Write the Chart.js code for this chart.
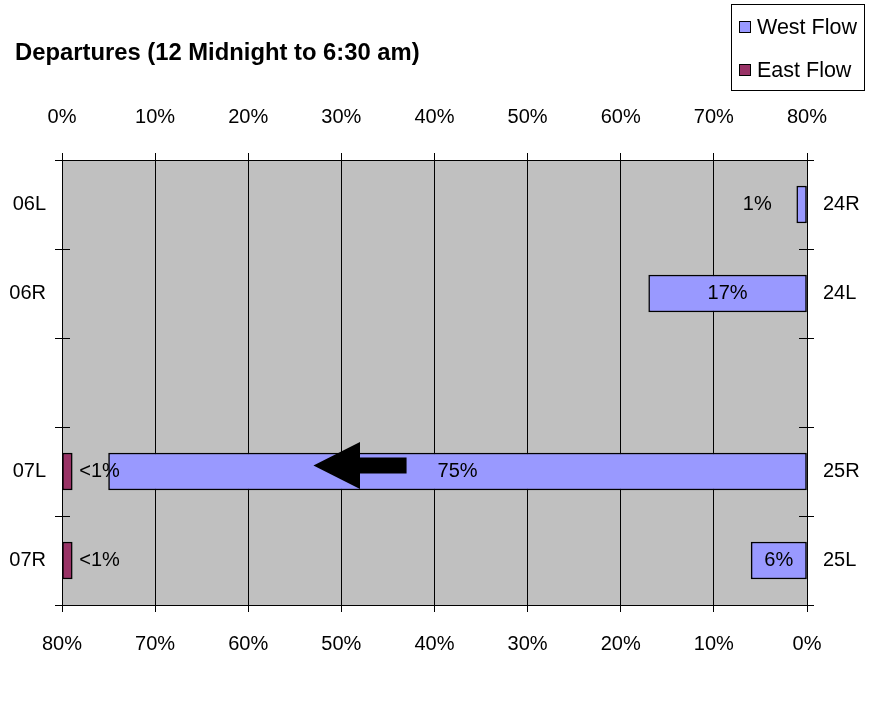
<!DOCTYPE html>
<html>
<head>
<meta charset="utf-8">
<script src="https://cdn.jsdelivr.net/npm/chart.js@4"></script>
<style>
  body { margin: 0; background: #fff; }
</style>
</head>
<body>
<canvas id="runwayChart" width="880" height="701"></canvas>
<script>
// runway ends (east end on the left, west end on the right)
const eastEnds = ["06L", "06R", "", "07L", "07R"];
const westEnds = ["24R", "24L", "", "25R", "25L"];
// share of departures, percent
const westFlow = [1.1, 17, null, 75, 6];
const eastFlow = [null, null, null, 1.1, 1.1];
const westLabels = ["1%", "17%", "", "75%", "6%"];
const eastLabels = ["", "", "", "<1%", "<1%"];
const pctMin = 0;
const pctMax = 80;
const pctStep = 10;

const FONT = "'Liberation Sans', Arial, sans-serif";

document.addEventListener("DOMContentLoaded", function() {
    Chart.defaults.font.family = FONT;
    Chart.defaults.font.size = 20;
    Chart.defaults.color = "#000";

    const plotBackground = {
        id: "plotBackground",
        beforeDraw(chart) {
            const a = chart.chartArea;
            const ctx = chart.ctx;
            ctx.save();
            ctx.fillStyle = "#c0c0c0";
            ctx.fillRect(a.left, a.top, a.right - a.left, a.bottom - a.top);
            ctx.restore();
        }
    };

    const extras = {
        id: "extras",
        afterDatasetsDraw(chart) {
            const ctx = chart.ctx;
            const a = chart.chartArea;
            const y = chart.scales.y;
            const x2 = chart.scales.x2;

            // inner tick marks on both category axes
            ctx.save();
            ctx.strokeStyle = "#000";
            ctx.lineWidth = 1;
            const half = (y.getPixelForValue(1) - y.getPixelForValue(0)) / 2;
            for (let i = 0; i <= eastEnds.length; i++) {
                const py = Math.round(y.getPixelForValue(i) - half) + 0.5;
                ctx.beginPath();
                ctx.moveTo(a.left, py); ctx.lineTo(a.left + 8, py);
                ctx.moveTo(a.right - 8, py); ctx.lineTo(a.right, py);
                ctx.stroke();
            }

            // bar labels
            ctx.font = "20px " + FONT;
            ctx.fillStyle = "#000";
            ctx.textBaseline = "middle";
            chart.getDatasetMeta(0).data.forEach(function(bar, i) {
                if (!westLabels[i]) return;
                const w = ctx.measureText(westLabels[i]).width;
                const left = Math.min(bar.x, bar.base);
                const right = Math.max(bar.x, bar.base);
                if (right - left > w + 10) {
                    ctx.textAlign = "center";
                    ctx.fillText(westLabels[i], (left + right) / 2, bar.y);
                } else {
                    ctx.textAlign = "right";
                    ctx.fillText(westLabels[i], left - 25, bar.y);
                }
            });
            chart.getDatasetMeta(1).data.forEach(function(bar, i) {
                if (!eastLabels[i]) return;
                ctx.textAlign = "left";
                ctx.fillText(eastLabels[i], Math.max(bar.x, bar.base) + 7, bar.y);
            });

            // direction arrow inside the 25R bar
            const ay = y.getPixelForValue(3) - 6;
            const tip = x2.getPixelForValue(53);
            const back = x2.getPixelForValue(48);
            const tail = x2.getPixelForValue(43);
            ctx.fillStyle = "#000";
            ctx.beginPath();
            ctx.moveTo(tip, ay);
            ctx.lineTo(back, ay - 23.5);
            ctx.lineTo(back, ay - 8);
            ctx.lineTo(tail, ay - 8);
            ctx.lineTo(tail, ay + 8);
            ctx.lineTo(back, ay + 8);
            ctx.lineTo(back, ay + 23.5);
            ctx.closePath();
            ctx.fill();
            ctx.restore();
        },
        afterDraw(chart) {
            const ctx = chart.ctx;
            ctx.save();
            // title
            ctx.fillStyle = "#000";
            ctx.font = "bold 23.8px " + FONT;
            ctx.textAlign = "left";
            ctx.textBaseline = "alphabetic";
            ctx.fillText("Departures (12 Midnight to 6:30 am)", 15, 60);

            // legend box
            ctx.strokeStyle = "#000";
            ctx.lineWidth = 1;
            ctx.strokeRect(731.5, 4.5, 133, 86);
            const items = [["West Flow", "#9999ff", 27], ["East Flow", "#993366", 70]];
            ctx.font = "21.5px " + FONT;
            ctx.textBaseline = "middle";
            items.forEach(function(it) {
                ctx.fillStyle = it[1];
                ctx.fillRect(739.5, it[2] - 5.5, 11, 11);
                ctx.strokeRect(739.5, it[2] - 5.5, 11, 11);
                ctx.fillStyle = "#000";
                ctx.fillText(it[0], 757, it[2] + 1);
            });
            ctx.restore();
        }
    };

    const pctTick = function(v) { return v + "%"; };

    const ctx = document.getElementById("runwayChart").getContext("2d");
    new Chart(ctx, {
        type: "bar",
        data: {
            labels: eastEnds,
            datasets: [{
                label: "West Flow",
                data: westFlow,
                xAxisID: "x2",
                yAxisID: "y",
                backgroundColor: "#9999ff",
                borderColor: "#000",
                borderWidth: 1.5,
                borderSkipped: false,
                barThickness: 37,
                grouped: false
            }, {
                label: "East Flow",
                data: eastFlow,
                xAxisID: "x",
                yAxisID: "y",
                backgroundColor: "#993366",
                borderColor: "#000",
                borderWidth: 1.5,
                borderSkipped: false,
                barThickness: 37,
                grouped: false
            }]
        },
        options: {
            indexAxis: "y",
            responsive: false,
            animation: false,
            layout: { padding: 0 },
            plugins: {
                legend: { display: false },
                title: { display: false },
                tooltip: { enabled: false }
            },
            scales: {
                x: {
                    type: "linear",
                    position: "top",
                    min: pctMin, max: pctMax,
                    ticks: { stepSize: pctStep, callback: pctTick, padding: 24, maxRotation: 0 },
                    grid: { color: "#000", lineWidth: 1, tickLength: 7, tickColor: "#000" },
                    border: { color: "#000", width: 1 },
                    afterFit: function(s) { s.height = 160; }
                },
                x2: {
                    type: "linear",
                    position: "bottom",
                    reverse: true,
                    min: pctMin, max: pctMax,
                    ticks: { stepSize: pctStep, callback: pctTick, padding: 20, maxRotation: 0 },
                    grid: { drawOnChartArea: false, tickLength: 7, tickColor: "#000" },
                    border: { color: "#000", width: 1 },
                    afterFit: function(s) { s.height = 96; }
                },
                y: {
                    type: "category",
                    position: "left",
                    offset: true,
                    ticks: { padding: 9 },
                    grid: { offset: true, drawOnChartArea: false, tickLength: 7, tickColor: "#000" },
                    border: { color: "#000", width: 1 },
                    afterFit: function(s) { s.width = 62; }
                },
                y2: {
                    type: "category",
                    position: "right",
                    labels: westEnds,
                    offset: true,
                    ticks: { padding: 9 },
                    grid: { offset: true, drawOnChartArea: false, tickLength: 7, tickColor: "#000" },
                    border: { color: "#000", width: 1 },
                    afterFit: function(s) { s.width = 73; }
                }
            }
        },
        plugins: [plotBackground, extras]
    });
});
</script>
</body>
</html>
